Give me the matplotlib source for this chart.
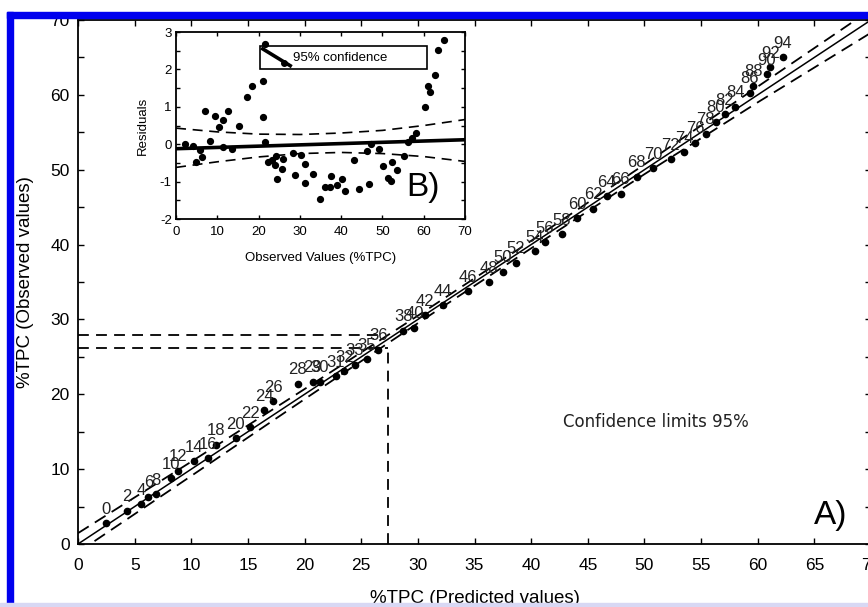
import matplotlib.pyplot as plt
import numpy as np
from matplotlib.patches import Rectangle
from matplotlib.lines import Line2D

plt.rcParams['font.family'] = ['Liberation Sans', 'DejaVu Sans']
plt.rcParams['axes.unicode_minus'] = False

# main plot: predicted vs observed %TPC
pred = [2.47, 4.3, 5.56, 6.2, 6.9, 8.18, 8.8, 10.27, 11.45, 12.15, 13.9, 15.18,
        16.45, 17.24, 19.4, 20.7, 21.36, 22.77, 23.5, 24.45, 25.5, 26.5, 28.7,
        29.7, 30.6, 32.2, 34.45, 36.3, 37.5, 38.66, 40.3, 41.2, 42.7, 44.07,
        45.5, 46.66, 47.9, 49.3, 50.78, 52.3, 53.5, 54.5, 55.4, 56.3, 57.1,
        58.0, 59.3, 59.6, 60.8, 61.1, 62.2]
obs = [2.76, 4.44, 5.29, 6.3, 6.67, 8.76, 9.78, 11.07, 11.5, 13.29, 14.1, 15.64,
       17.87, 19.07, 21.4, 21.7, 21.7, 22.4, 23.07, 23.96, 24.67, 25.96, 28.5,
       28.9, 30.6, 31.9, 33.8, 35.0, 36.4, 37.6, 39.1, 40.3, 41.4, 43.5,
       44.8, 46.5, 46.8, 49.07, 50.2, 51.4, 52.3, 53.6, 54.8, 56.4, 57.4,
       58.4, 60.3, 61.2, 62.76, 63.7, 65.0]
ids = ['0', '2', '4', '6', '8', '10', '12', '14', '16', '18', '20', '22',
       '24', '26', '28', '29', '30', '31', '32', '33', '35', '36', '38',
       '40', '42', '44', '46', '48', '50', '52', '54', '56', '58', '60',
       '62', '64', '66', '68', '70', '72', '74', '76', '78', '80', '82',
       '84', '86', '88', '90', '92', '94']

# 95% confidence limits
ci_x = [0, 10, 20, 30, 40, 50, 60, 70]
ci_upper = [1.45, 11.0, 20.7, 30.5, 40.5, 50.7, 61.1, 71.4]
ci_lower = [-1.1, 9.1, 19.35, 29.5, 39.5, 49.4, 59.0, 68.3]

# inset: residuals vs observed values
res_x = [2.25, 4.0, 5.8, 4.8, 6.4, 7.1, 8.3, 9.4, 10.5, 11.3, 11.4, 12.7, 13.5,
         15.3, 17.3, 18.5, 21.5, 21.1, 21.1, 21.6, 22.3, 23.2, 24.0, 24.1, 24.5,
         25.9, 25.7, 28.3, 28.7, 30.2, 31.2, 31.2, 33.2, 34.8, 36.0, 37.4, 37.6,
         38.9, 40.2, 41.0, 43.0, 44.4, 46.3, 46.7, 47.1, 49.1, 50.1, 51.3, 52.1,
         52.3, 53.5, 55.1, 56.2, 57.1, 58.2, 60.2, 61.1, 61.4, 62.6, 63.4, 64.8]
res_y = [0.01, -0.06, -0.16, -0.48, -0.34, 0.90, 0.09, 0.76, 0.46, 0.64, -0.07,
         0.90, -0.13, 0.50, 1.26, 1.57, 2.69, 1.68, 0.73, 0.05, -0.48, -0.43,
         -0.55, -0.32, -0.92, -0.40, -0.66, -0.24, -0.81, -0.28, -0.53, -1.04,
         -0.79, -1.46, -1.15, -1.15, -0.86, -1.10, -0.92, -1.24, -0.41, -1.20,
         -0.19, -1.06, 0.01, -0.13, -0.57, -0.90, -0.99, -0.48, -0.70, -0.31,
         0.05, 0.17, 0.30, 0.99, 1.57, 1.40, 1.84, 2.53, 2.78]
fit_x = [0, 70]
fit_y = [-0.12, 0.12]
res_ci_x = [0, 10, 20, 30, 40, 50, 60, 70]
res_upper = [0.43, 0.33, 0.27, 0.26, 0.30, 0.37, 0.50, 0.66]
res_lower = [-0.62, -0.47, -0.34, -0.25, -0.22, -0.25, -0.33, -0.46]

fig = plt.figure(figsize=(8.68, 6.07), dpi=100)

ax = fig.add_axes([0.0899, 0.1038, 0.9136, 0.8633])
ax.plot([0, 70], [0, 70], color='black', lw=1.1)
ax.plot(ci_x, ci_upper, color='black', lw=1.3, dashes=(7, 4))
ax.plot(ci_x, ci_lower, color='black', lw=1.3, dashes=(7, 4))
ax.plot([0, 26.8], [27.9, 27.9], color='black', lw=1.3, dashes=(6, 4))
ax.plot([0, 27.35], [26.2, 26.2], color='black', lw=1.3, dashes=(6, 4))
ax.plot([27.35, 27.35], [0, 26.2], color='black', lw=1.3, dashes=(6, 4))
ax.plot(pred, obs, 'o', color='black', ms=4.5)
for x, y, s in zip(pred, obs, ids):
    ax.annotate(s, (x, y), xytext=(0, 10), textcoords='offset points',
                ha='center', va='center', fontsize=12, color='#222222')

ax.set_xlim(0, 70)
ax.set_ylim(0, 70)
ax.set_xticks(np.arange(0, 71, 5))
ax.set_yticks(np.arange(0, 71, 10))
ax.set_yticks(np.arange(0, 71, 5), minor=True)
ax.tick_params(which='both', direction='in', top=True, right=True,
               length=4, width=1, labelsize=12.5)
ax.tick_params(axis='x', pad=10)
ax.tick_params(axis='y', pad=6)
for sp in ax.spines.values():
    sp.set_linewidth(1.3)
ax.set_xlabel('%TPC (Predicted values)', fontsize=13.5, labelpad=12)
ax.set_ylabel('%TPC (Observed values)', fontsize=13.5, labelpad=12)
ax.text(0.612, 0.232, 'Confidence limits 95%', transform=ax.transAxes,
        family='DejaVu Sans', fontsize=12, color='#222222', va='center')
ax.text(0.928, 0.055, 'A)', transform=ax.transAxes, fontsize=24, va='center')

# inset
axin = fig.add_axes([0.2028, 0.6392, 0.333, 0.308])
axin.plot(fit_x, fit_y, color='black', lw=2.6)
axin.plot(res_ci_x, res_upper, color='black', lw=1.2, dashes=(6, 4))
axin.plot(res_ci_x, res_lower, color='black', lw=1.2, dashes=(6, 4))
axin.plot(res_x, res_y, 'o', color='black', ms=4.2)
axin.set_xlim(0, 70)
axin.set_ylim(-2, 3)
axin.set_xticks(np.arange(0, 71, 10))
axin.set_yticks(np.arange(-2, 4, 1))
axin.set_yticks(np.arange(-2, 3.1, 0.5), minor=True)
axin.tick_params(which='both', direction='in', top=True, right=True,
                 length=3, width=1, labelsize=9.5)
axin.tick_params(axis='x', pad=5)
axin.tick_params(axis='y', pad=3)
for sp in axin.spines.values():
    sp.set_linewidth(1.3)
axin.set_xlabel('Observed Values (%TPC)', fontsize=9.5, labelpad=10)
axin.set_ylabel('Residuals', fontsize=9.5, labelpad=8)
axin.text(0.855, 0.17, 'B)', transform=axin.transAxes, fontsize=24,
          va='center', ha='center')
axin.add_patch(Rectangle((0.29, 0.802), 0.578, 0.123, transform=axin.transAxes,
                         fill=False, lw=1.2, color='black'))
axin.add_line(Line2D([0.30, 0.395], [0.91, 0.82], transform=axin.transAxes,
                     color='black', lw=2.6))
axin.plot([0.375], [0.835], 'o', color='black', ms=4, transform=axin.transAxes)
axin.text(0.405, 0.862, '95% confidence', transform=axin.transAxes,
          fontsize=9.5, va='center')

# blue frame of the original page crop
fig.add_artist(Rectangle((0, 1 - 12 / 607), 1, 12 / 607, transform=fig.transFigure,
                         color='white', zorder=10))
fig.add_artist(Rectangle((7 / 868, 1 - 17.5 / 607), 1, 5.5 / 607,
                         transform=fig.transFigure, color='#0000ee', zorder=11))
fig.add_artist(Rectangle((7 / 868, 0), 5.5 / 868, 1 - 12 / 607,
                         transform=fig.transFigure, color='#0000ee', zorder=11))
fig.add_artist(Rectangle((0, 0), 1, 4 / 607, transform=fig.transFigure,
                         color='#d8d8f4', zorder=11))

fig.savefig('out.png', dpi=100)
